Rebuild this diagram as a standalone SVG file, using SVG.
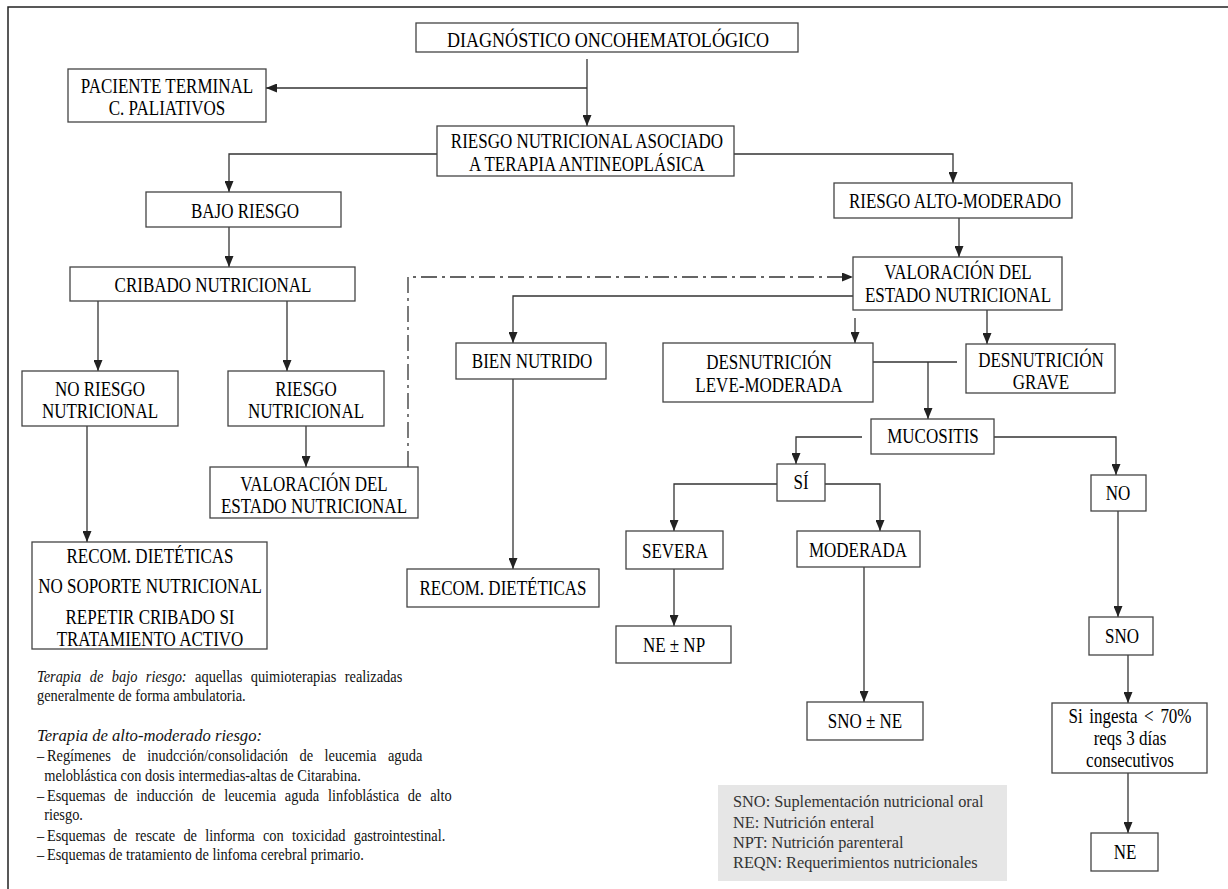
<svg xmlns="http://www.w3.org/2000/svg" width="1228" height="889" viewBox="0 0 1228 889">
<defs>
<marker id="ah" markerUnits="userSpaceOnUse" markerWidth="11" markerHeight="9" refX="11" refY="4.5" orient="auto">
<path d="M0,0 L11,4.5 L0,9 z" fill="#222"/>
</marker>
<style>
.bx{fill:#fff;stroke:#444;stroke-width:1.3}
.t{font-size:21px;fill:#000;text-anchor:middle}
.n{font-size:16px;fill:#111}
.lg{font-size:17px;fill:#333}
.c{fill:none;stroke:#333;stroke-width:1.3}
.a{marker-end:url(#ah)}
.d{stroke-dasharray:16 5 3 5}
</style>
</defs>
<rect width="1228" height="889" fill="#fff"/>
<path d="M8,889 V7 H1228" fill="none" stroke="#222" stroke-width="1.5"/>

<g id="connectors">
<path class="c a" d="M587,59 V126"/>
<path class="c a" d="M587,88 H266"/>
<path class="c a" d="M437,154 H229 V192"/>
<path class="c a" d="M734,154 H953 V183"/>
<path class="c a" d="M229,227 V267"/>
<path class="c a" d="M98,301 V371"/>
<path class="c a" d="M287,301 V371"/>
<path class="c a" d="M306,426 V467"/>
<path class="c a" d="M87,426 V542"/>
<path class="c a d" d="M408,467 V277 H853"/>
<path class="c a" d="M959,218 V257"/>
<path class="c a" d="M853,296 H513 V343"/>
<path class="c a" d="M855,318 V343"/>
<path class="c a" d="M987,310 V344"/>
<path class="c a" d="M513,379 V569"/>
<path class="c" d="M873,362 H957"/>
<path class="c a" d="M928,362 V419"/>
<path class="c a" d="M862,437 H796 V464"/>
<path class="c a" d="M994,437 H1116 V475"/>
<path class="c a" d="M777,484 H674 V531"/>
<path class="c a" d="M825,484 H880 V531"/>
<path class="c a" d="M674,569 V626"/>
<path class="c a" d="M864,567 V702"/>
<path class="c a" d="M1118,511 V617"/>
<path class="c a" d="M1128,655 V703"/>
<path class="c a" d="M1128,773 V833"/>
</g>

<g id="diagnostico"><rect class="bx" x="416" y="23" width="382" height="29"/><g transform="matrix(0.86,0,0,1,85.12,0)"><text class="t" font-family="Liberation Serif" x="608" y="47">DIAGNÓSTICO ONCOHEMATOLÓGICO</text></g></g>
<g id="paciente-terminal"><rect class="bx" x="68" y="69" width="198" height="53"/><g transform="matrix(0.81,0,0,1,31.73,0)"><text class="t" font-family="Liberation Serif" x="167" y="93">PACIENTE TERMINAL</text><text class="t" font-family="Liberation Serif" x="167" y="115">C. PALIATIVOS</text></g></g>
<g id="riesgo-nutricional-asociado"><rect class="bx" x="437" y="126" width="297" height="50"/><g transform="matrix(0.81,0,0,1,111.53,0)"><text class="t" font-family="Liberation Serif" x="587" y="148">RIESGO NUTRICIONAL ASOCIADO</text><text class="t" font-family="Liberation Serif" x="587" y="171">A TERAPIA ANTINEOPLÁSICA</text></g></g>
<g id="bajo-riesgo"><rect class="bx" x="146" y="192" width="195" height="35"/><g transform="matrix(0.81,0,0,1,46.55,0)"><text class="t" font-family="Liberation Serif" x="245" y="218">BAJO RIESGO</text></g></g>
<g id="riesgo-alto-moderado"><rect class="bx" x="834" y="183" width="238" height="35"/><g transform="matrix(0.81,0,0,1,181.45,0)"><text class="t" font-family="Liberation Serif" x="955" y="208">RIESGO ALTO-MODERADO</text></g></g>
<g id="cribado"><rect class="bx" x="70" y="267" width="285" height="34"/><g transform="matrix(0.81,0,0,1,40.47,0)"><text class="t" font-family="Liberation Serif" x="213" y="292">CRIBADO NUTRICIONAL</text></g></g>
<g id="valoracion-derecha"><rect class="bx" x="853" y="257" width="209" height="53"/><g transform="matrix(0.81,0,0,1,182.02,0)"><text class="t" font-family="Liberation Serif" x="958" y="279">VALORACIÓN DEL</text><text class="t" font-family="Liberation Serif" x="958" y="302">ESTADO NUTRICIONAL</text></g></g>
<g id="bien-nutrido"><rect class="bx" x="456" y="343" width="150" height="36"/><g transform="matrix(0.81,0,0,1,101.08,0)"><text class="t" font-family="Liberation Serif" x="532" y="368">BIEN NUTRIDO</text></g></g>
<g id="desnutricion-leve"><rect class="bx" x="663" y="343" width="210" height="59"/><g transform="matrix(0.81,0,0,1,146.11,0)"><text class="t" font-family="Liberation Serif" x="769" y="369">DESNUTRICIÓN</text><text class="t" font-family="Liberation Serif" x="769" y="392">LEVE-MODERADA</text></g></g>
<g id="desnutricion-grave"><rect class="bx" x="966" y="344" width="149" height="49"/><g transform="matrix(0.81,0,0,1,197.79,0)"><text class="t" font-family="Liberation Serif" x="1041" y="367">DESNUTRICIÓN</text><text class="t" font-family="Liberation Serif" x="1041" y="389">GRAVE</text></g></g>
<g id="no-riesgo"><rect class="bx" x="22" y="371" width="156" height="55"/><g transform="matrix(0.81,0,0,1,19,0)"><text class="t" font-family="Liberation Serif" x="100" y="396">NO RIESGO</text><text class="t" font-family="Liberation Serif" x="100" y="418">NUTRICIONAL</text></g></g>
<g id="riesgo-nutricional"><rect class="bx" x="228" y="371" width="156" height="55"/><g transform="matrix(0.81,0,0,1,58.14,0)"><text class="t" font-family="Liberation Serif" x="306" y="396">RIESGO</text><text class="t" font-family="Liberation Serif" x="306" y="418">NUTRICIONAL</text></g></g>
<g id="mucositis"><rect class="bx" x="871" y="419" width="123" height="35"/><g transform="matrix(0.81,0,0,1,177.27,0)"><text class="t" font-family="Liberation Serif" x="933" y="443">MUCOSITIS</text></g></g>
<g id="valoracion-izquierda"><rect class="bx" x="210" y="467" width="208" height="51"/><g transform="matrix(0.81,0,0,1,59.66,0)"><text class="t" font-family="Liberation Serif" x="314" y="491">VALORACIÓN DEL</text><text class="t" font-family="Liberation Serif" x="314" y="513">ESTADO NUTRICIONAL</text></g></g>
<g id="si"><rect class="bx" x="777" y="464" width="48" height="37"/><g transform="matrix(0.81,0,0,1,152.19,0)"><text class="t" font-family="Liberation Serif" x="801" y="489">SÍ</text></g></g>
<g id="no"><rect class="bx" x="1091" y="475" width="55" height="36"/><g transform="matrix(0.81,0,0,1,212.42,0)"><text class="t" font-family="Liberation Serif" x="1118" y="500">NO</text></g></g>
<g id="severa"><rect class="bx" x="626" y="531" width="97" height="38"/><g transform="matrix(0.81,0,0,1,128.25,0)"><text class="t" font-family="Liberation Serif" x="675" y="558">SEVERA</text></g></g>
<g id="moderada"><rect class="bx" x="797" y="531" width="123" height="36"/><g transform="matrix(0.81,0,0,1,163.02,0)"><text class="t" font-family="Liberation Serif" x="858" y="557">MODERADA</text></g></g>
<g id="recom-izquierda"><rect class="bx" x="32" y="542" width="235" height="107"/><g transform="matrix(0.81,0,0,1,28.5,0)"><text class="t" font-family="Liberation Serif" x="150" y="563">RECOM. DIETÉTICAS</text><text class="t" font-family="Liberation Serif" x="150" y="593">NO SOPORTE NUTRICIONAL</text><text class="t" font-family="Liberation Serif" x="150" y="624">REPETIR CRIBADO SI</text><text class="t" font-family="Liberation Serif" x="150" y="646">TRATAMIENTO ACTIVO</text></g></g>
<g id="recom-centro"><rect class="bx" x="407" y="569" width="192" height="38"/><g transform="matrix(0.81,0,0,1,95.57,0)"><text class="t" font-family="Liberation Serif" x="503" y="595">RECOM. DIETÉTICAS</text></g></g>
<g id="sno"><rect class="bx" x="1089" y="617" width="64" height="38"/><g transform="matrix(0.81,0,0,1,213.18,0)"><text class="t" font-family="Liberation Serif" x="1122" y="643">SNO</text></g></g>
<g id="ne-np"><rect class="bx" x="616" y="626" width="115" height="37"/><g transform="matrix(0.81,0,0,1,128.06,0)"><text class="t" font-family="Liberation Serif" x="674" y="652">NE ± NP</text></g></g>
<g id="sno-ne"><rect class="bx" x="807" y="702" width="116" height="38"/><g transform="matrix(0.81,0,0,1,164.35,0)"><text class="t" font-family="Liberation Serif" x="865" y="728">SNO ± NE</text></g></g>
<g id="si-ingesta"><rect class="bx" x="1052" y="703" width="155" height="70"/><g transform="matrix(0.81,0,0,1,214.7,0)"><text class="t" font-family="Liberation Serif" x="1130" y="723" word-spacing="3">Si ingesta &lt; 70%</text><text class="t" font-family="Liberation Serif" x="1130" y="745">reqs 3 días</text><text class="t" font-family="Liberation Serif" x="1130" y="767">consecutivos</text></g></g>
<g id="ne"><rect class="bx" x="1091" y="833" width="67" height="38"/><g transform="matrix(0.81,0,0,1,213.75,0)"><text class="t" font-family="Liberation Serif" x="1125" y="859">NE</text></g></g>

<g id="notas" transform="matrix(0.9,0,0,1,3.7,0)">
<text class="n" font-family="Liberation Serif" x="37" y="682" word-spacing="5.4"><tspan font-style="italic">Terapia de bajo riesgo:</tspan> aquellas quimioterapias realizadas</text>
<text class="n" font-family="Liberation Serif" x="37" y="701">generalmente de forma ambulatoria.</text>
<text class="n" font-family="Liberation Serif" x="37" y="741" font-style="italic" textLength="250" lengthAdjust="spacingAndGlyphs">Terapia de alto-moderado riesgo:</text>
<text class="n" font-family="Liberation Serif" x="37" y="761">–<tspan x="48" word-spacing="8.7">Regímenes de inudcción/consolidación de leucemia aguda</tspan></text>
<text class="n" font-family="Liberation Serif" x="45" y="781">meloblástica con dosis intermedias-altas de Citarabina.</text>
<text class="n" font-family="Liberation Serif" x="37" y="801">–<tspan x="48" word-spacing="5.7">Esquemas de inducción de leucemia aguda linfoblástica de alto</tspan></text>
<text class="n" font-family="Liberation Serif" x="45" y="820">riesgo.</text>
<text class="n" font-family="Liberation Serif" x="37" y="841">–<tspan x="48" word-spacing="5.1">Esquemas de rescate de linforma con toxicidad gastrointestinal.</tspan></text>
<text class="n" font-family="Liberation Serif" x="37" y="860">–<tspan x="48">Esquemas de tratamiento de linfoma cerebral primario.</tspan></text>
</g>

<g id="leyenda">
<rect x="718" y="785" width="289" height="96" fill="#e6e6e6"/>
<g transform="matrix(0.96,0,0,1,29.32,0)">
<text class="lg" font-family="Liberation Serif" x="733" y="807">SNO: Suplementación nutricional oral</text>
<text class="lg" font-family="Liberation Serif" x="733" y="828">NE: Nutrición enteral</text>
<text class="lg" font-family="Liberation Serif" x="733" y="848">NPT: Nutrición parenteral</text>
<text class="lg" font-family="Liberation Serif" x="733" y="868">REQN: Requerimientos nutricionales</text>
</g>
</g>
</svg>
